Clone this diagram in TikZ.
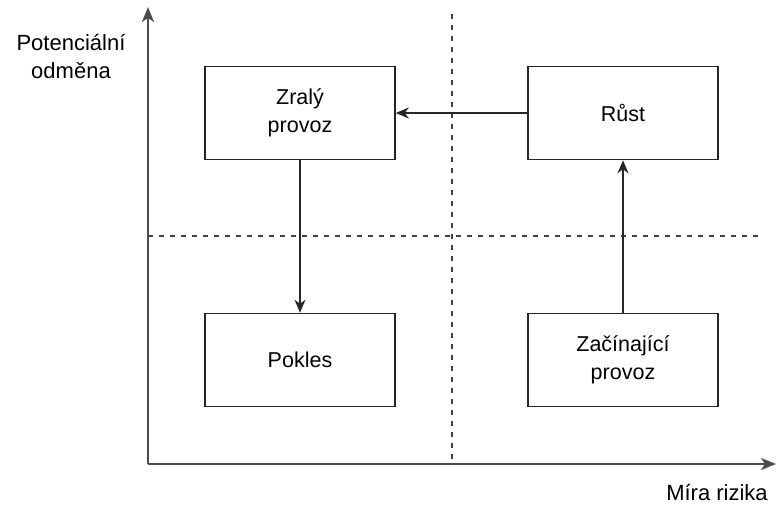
\documentclass[tikz,border=0pt]{standalone}
\usepackage{fontspec}
\setmainfont{Liberation Sans}
\usetikzlibrary{arrows.meta}
\begin{document}
\begin{tikzpicture}[x=1pt,y=-1pt,
  box/.style={draw=black!85,line width=1.6pt,minimum width=190pt,minimum height=93pt,align=center,font=\fontsize{21.5}{28}\selectfont,inner sep=0pt},
  axis/.style={draw=black!70,line width=2pt,-{Stealth[length=15pt,width=12pt,inset=4pt]}},
  guide/.style={draw=black!75,line width=1.5pt,dash pattern=on 5pt off 6pt},
  conn/.style={draw=black!85,line width=1.6pt,-{Stealth[length=13pt,width=11pt,inset=4pt]}},
  lbl/.style={align=center,font=\fontsize{22}{28}\selectfont,inner sep=0pt}]
\useasboundingbox (0,0) rectangle (776,509);
\coordinate (o) at (148,464);
\coordinate (ytop) at (148,7);
\coordinate (xend) at (776,464);
\coordinate (v1) at (452,14);
\coordinate (v2) at (452,464);
\coordinate (h1) at (148,236);
\coordinate (h2) at (759,236);
\draw[guide] (v1) -- (v2);
\draw[guide] (h1) -- (h2);
\draw[axis] (o) -- (ytop);
\draw[axis] (o) -- (xend);
\node[box] (zraly) at (300,113) {Zralý\\provoz};
\node[box] (rust) at (623,113) {Růst};
\node[box] (pokles) at (300,360) {Pokles};
\node[box] (zacin) at (623,360) {Začínající\\provoz};
\draw[conn] (rust) -- (zraly);
\draw[conn] (zraly) -- (pokles);
\draw[conn] (zacin) -- (rust);
\node[lbl] (ylab) at (71,57) {Potenciální\\odměna};
\node[lbl] (xlab) at (717,492) {Míra rizika};
\end{tikzpicture}
\end{document}
